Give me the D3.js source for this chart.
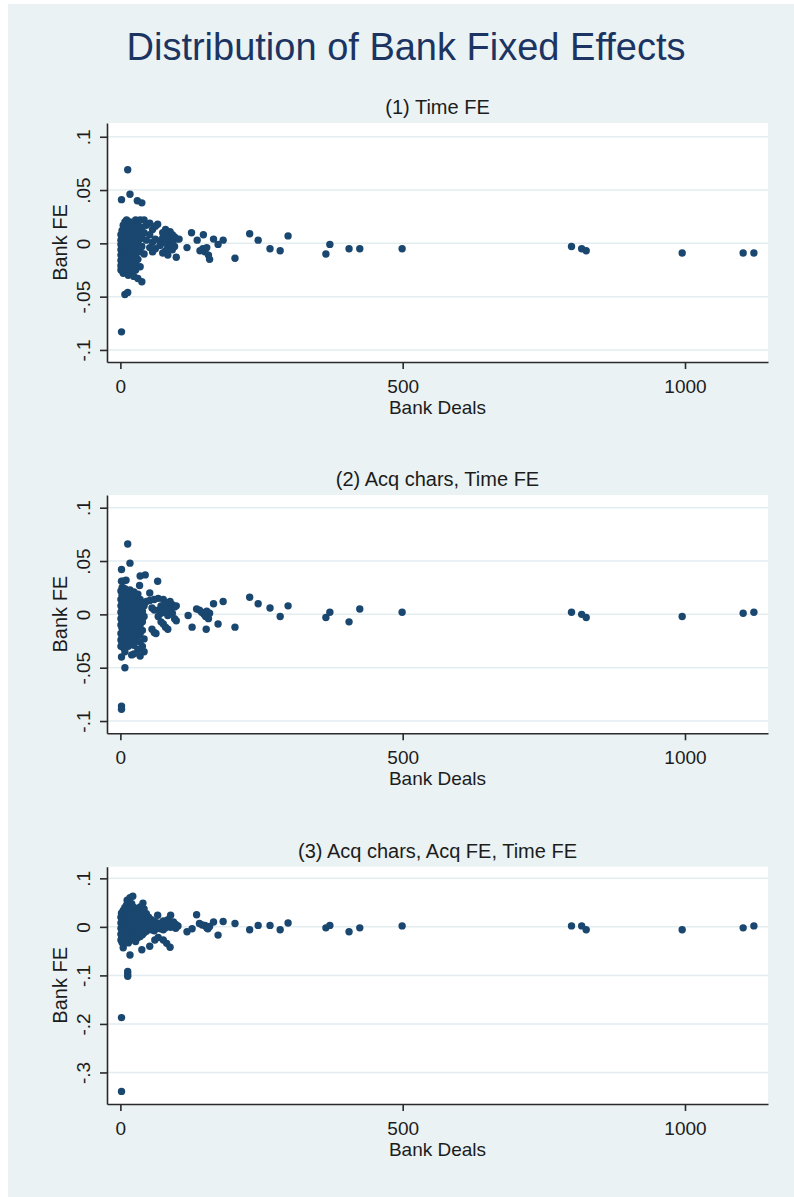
<!DOCTYPE html>
<html>
<head>
<meta charset="utf-8">
<script src="https://cdn.jsdelivr.net/npm/d3@7"></script>
<style>
  body { margin: 0; background: #ffffff; }
  text { font-family: "Liberation Sans", Arial, sans-serif; }
</style>
</head>
<body>
<div id="chart"></div>
<script>
// bank fixed effects, three specs, x = number of bank deals, y = bank FE
// each pair is [deals, fe]

// (1) time FE
var timeFE = [
  [13,.069],[2,.041],[17,.046],[30,.040],[38,.038],[2,-.083],[8,-.048],[13,-.046],
  [1,.008],[1,.003],[1,-.001],[1,-.006],[1,-.011],[1,-.016],[1,-.021],[1,-.025],
  [3,.012],[3,.005],[3,.001],[3,-.004],[3,-.009],[3,-.014],[3,-.019],
  [5,.017],[5,.010],[5,.002],[5,-.003],[5,-.008],[5,-.013],[5,-.018],[5,-.024],[5,-.028],
  [8,.020],[8,.014],[8,.007],[8,.000],[8,-.006],[8,-.012],[8,-.017],[8,-.022],
  [11,.022],[11,.016],[11,.009],[11,.003],[11,-.003],[11,-.010],[11,-.015],[11,-.021],[11,-.027],
  [14,.018],[14,.011],[14,.005],[14,-.001],[14,-.007],[14,-.013],[14,-.019],[14,-.024],[14,-.030],
  [17,.020],[17,.013],[17,.006],[17,.000],[17,-.005],[17,-.012],[17,-.017],
  [20,.015],[20,.008],[20,.002],[20,-.004],[20,-.009],[20,-.016],[20,-.022],[20,-.028],
  [24,.019],[24,.011],[24,.004],[24,-.002],[24,-.008],[24,-.014],[24,-.020],[24,-.031],
  [27,.022],[27,.014],[27,.007],[27,-.003],[27,-.012],[27,-.018],[27,-.025],
  [31,.017],[31,.009],[31,.002],[31,-.006],[31,-.015],[31,-.033],
  [35,.022],[35,.013],[35,.004],[35,-.008],[35,-.022],
  [38,.015],[38,.006],[38,-.003],[38,-.036],
  [42,.022],[42,.010],[42,-.010],[46,.017],[46,.003],
  [52,.019],[52,.008],[52,-.004],[57,.013],[57,.001],[57,-.008],
  [62,.016],[62,.004],[62,-.005],[66,.018],[70,.002],[70,-.002],
  [75,.010],[75,.005],[75,-.009],[80,.013],[80,.007],[80,.000],[80,-.007],
  [84,.010],[84,.003],[84,-.005],[84,-.011],[88,.011],[88,.006],[88,-.001],
  [92,.008],[92,.002],[92,-.006],[96,.006],[96,-.003],[100,.004],[99,-.013],[104,.004],
  [118,-.004],[126,.010],[136,.003],[141,-.007],[146,-.005],[147,.008],[150,-.008],
  [153,-.004],[156,-.011],[158,-.015],[165,.004],[173,-.001],[182,.003],[203,-.014],
  [229,.009],[244,.003],[265,-.005],[283,-.007],[297,.007],[364,-.010],[371,-.001],
  [405,-.005],[424,-.005],[499,-.005],[799,-.003],[817,-.005],[825,-.007],
  [995,-.009],[1103,-.009],[1122,-.009]
];

// (2) acq chars, time FE
var acqChars = [
  [13,.066],[17,.048],[2,.042],[5,.031],[2,.031],[10,.032],[35,.036],[44,.037],[34,.027],[66,.031],
  [2,-.040],[8,-.050],[2,-.086],[2,-.089],
  [1,.022],[1,.014],[1,.008],[1,.002],[1,-.004],[1,-.010],[1,-.018],[1,-.024],[1,-.030],
  [3,.025],[3,.018],[3,.011],[3,.005],[3,-.001],[3,-.007],[3,-.013],[3,-.020],[3,-.027],
  [5,.020],[5,.013],[5,.006],[5,.000],[5,-.006],[5,-.012],[5,-.017],[5,-.023],[5,-.031],
  [8,.024],[8,.016],[8,.009],[8,.003],[8,-.003],[8,-.009],[8,-.015],[8,-.021],[8,-.028],[8,-.035],
  [11,.021],[11,.013],[11,.006],[11,-.001],[11,-.007],[11,-.014],[11,-.020],[11,-.026],
  [14,.018],[14,.010],[14,.004],[14,-.004],[14,-.010],[14,-.017],[14,-.024],[14,-.030],
  [17,.023],[17,.015],[17,.008],[17,.001],[17,-.006],[17,-.012],[17,-.019],[17,-.027],
  [20,.019],[20,.011],[20,.004],[20,-.003],[20,-.009],[20,-.016],[20,-.022],[20,-.038],
  [24,.021],[24,.013],[24,.006],[24,-.001],[24,-.008],[24,-.014],[24,-.021],[24,-.029],[24,-.037],
  [27,.016],[27,.009],[27,.002],[27,-.005],[27,-.011],[27,-.018],[27,-.025],
  [31,.019],[31,.011],[31,.003],[31,-.004],[31,-.012],[31,-.020],[31,-.033],
  [35,.014],[35,.006],[35,-.002],[35,-.010],[35,-.018],[35,-.026],[35,-.039],
  [39,.011],[39,.003],[39,-.007],[39,-.015],[39,-.030],
  [42,.008],[42,-.002],[42,-.023],[42,-.035],[46,.012],
  [52,.020],[52,.013],[56,.006],[56,-.014],[60,.014],[60,.004],[60,-.017],[63,-.018],
  [67,.015],[67,.004],[67,-.002],[72,.008],[72,.001],[72,-.007],
  [76,.014],[76,.006],[76,-.009],[80,.010],[80,.002],[80,-.012],
  [84,.008],[84,-.001],[84,-.014],[88,.012],[88,.004],[92,.009],[92,.001],
  [96,.007],[96,-.004],[99,.008],[99,-.006],
  [120,-.001],[127,-.012],[135,.005],[140,.004],[144,.002],[148,.000],[151,-.002],
  [153,.003],[156,-.004],[158,.001],[152,-.014],[165,.010],[173,-.009],[182,.012],
  [203,-.012],[229,.016],[244,.010],[265,.006],[283,-.002],[297,.008],[364,-.003],
  [371,.002],[405,-.007],[424,.005],[499,.002],[799,.002],[817,.000],[825,-.003],
  [995,-.002],[1103,.001],[1122,.002]
];

// (3) acq chars, acq FE, time FE
var acqCharsFE = [
  [17,.060],[22,.063],[12,.055],[40,.049],[2,.028],[5,-.043],[17,-.058],[38,-.047],
  [52,-.040],[61,-.027],[67,-.022],[76,-.027],[82,-.034],[88,-.042],
  [13,-.092],[13,-.097],[13,-.102],[2,-.187],[2,-.339],
  [1,.020],[1,.008],[1,-.003],[1,-.015],[1,-.027],
  [3,.028],[3,.015],[3,.004],[3,-.007],[3,-.020],[3,-.032],
  [5,.034],[5,.022],[5,.010],[5,-.001],[5,-.012],[5,-.024],
  [8,.040],[8,.027],[8,.016],[8,.005],[8,-.006],[8,-.018],[8,-.030],
  [11,.045],[11,.032],[11,.020],[11,.009],[11,-.002],[11,-.014],[11,-.026],
  [14,.050],[14,.037],[14,.025],[14,.013],[14,.002],[14,-.009],[14,-.021],[14,-.033],
  [17,.043],[17,.030],[17,.018],[17,.006],[17,-.005],[17,-.017],[17,-.028],
  [20,.048],[20,.035],[20,.022],[20,.010],[20,-.001],[20,-.012],[20,-.024],
  [24,.040],[24,.028],[24,.015],[24,.004],[24,-.008],[24,-.019],
  [27,.033],[27,.020],[27,.008],[27,-.003],[27,-.015],[27,-.030],
  [31,.036],[31,.024],[31,.012],[31,.000],[31,-.011],[31,-.022],
  [35,.041],[35,.028],[35,.016],[35,.004],[35,-.007],[35,-.020],
  [39,.032],[39,.019],[39,.007],[39,-.005],[39,-.016],
  [42,.037],[42,.024],[42,.011],[42,-.001],[42,-.012],
  [46,.027],[46,.014],[46,.002],[46,-.009],[50,.020],[50,.008],[50,-.004],
  [55,.015],[55,.003],[55,-.006],[60,.011],[60,.000],[60,-.008],
  [66,.024],[66,.008],[66,-.003],[71,.005],[71,-.004],[76,.012],[76,.002],[76,-.006],
  [80,.008],[80,-.002],[84,.015],[84,.004],[89,.024],[89,.009],[89,-.001],
  [94,.010],[94,.002],[98,.005],[98,-.003],[102,.002],
  [118,-.010],[127,-.004],[135,.025],[140,.007],[145,.004],[150,.003],[153,-.002],
  [155,-.004],[158,.001],[165,.010],[173,-.017],[182,.011],[203,.007],[229,-.006],
  [244,.003],[265,.003],[283,-.006],[297,.008],[364,-.002],[371,.003],[405,-.010],
  [424,-.002],[499,.002],[799,.002],[817,.002],[825,-.006],[995,-.006],
  [1103,-.002],[1122,.002]
];

var panelTitles = ["(1) Time FE", "(2) Acq chars, Time FE", "(3) Acq chars, Acq FE, Time FE"];
var xTicks = [0, 500, 1000];
var yTicksSmall = [-.1, -.05, 0, .05, .1];
var yLabelsSmall = ["-.1", "-.05", "0", ".05", ".1"];
var yTicksBig = [-.3, -.2, -.1, 0, .1];
var yLabelsBig = ["-.3", "-.2", "-.1", "0", ".1"];

//svg area
var svgWidth = 794;
var svgHeight = 1197;

var bgColor = "#eaf2f3";
var markerColor = "#1a476f";
var inkColor = "#1c1c1c";

var svg = d3.select("#chart")
  .append("svg")
  .attr("width", svgWidth)
  .attr("height", svgHeight);

//graph region (stata light bluish gray)
svg.append("rect")
  .attr("x", 8)
  .attr("y", 4)
  .attr("width", svgWidth - 8)
  .attr("height", svgHeight - 4)
  .attr("fill", bgColor);

svg.append("text")
  .attr("x", 406)
  .attr("y", 60)
  .attr("text-anchor", "middle")
  .style("font-size", "38px")
  .attr("fill", "#1c3462")
  .text("Distribution of Bank Fixed Effects");

//plot area edges, same x for all panels
var plotLeft = 107;
var plotRight = 768;

var xScale = d3.scaleLinear()
  .domain([-23.7, 1147])
  .range([plotLeft, plotRight]);

var panels = [
  { data: timeFE, top: 123, bottom: 362, domain: [-.1113, .1129], ticks: yTicksSmall, labels: yLabelsSmall },
  { data: acqChars, top: 495, bottom: 733.3, domain: [-.1115, .1119], ticks: yTicksSmall, labels: yLabelsSmall },
  { data: acqCharsFE, top: 866.7, bottom: 1104, domain: [-.365, .124], ticks: yTicksBig, labels: yLabelsBig }
];

function drawPanel(p, i) {
  var yScale = d3.scaleLinear()
    .domain(p.domain)
    .range([p.bottom, p.top]);

  var g = svg.append("g");

  //white plot region
  g.append("rect")
    .attr("x", plotLeft)
    .attr("y", p.top)
    .attr("width", plotRight - plotLeft)
    .attr("height", p.bottom - p.top)
    .attr("fill", "#ffffff");

  //gridlines
  g.selectAll(".grid")
    .data(p.ticks)
    .enter()
    .append("line")
    .attr("class", "grid")
    .attr("x1", plotLeft)
    .attr("x2", plotRight)
    .attr("y1", d => yScale(d))
    .attr("y2", d => yScale(d))
    .attr("stroke", "#e3edf0")
    .attr("stroke-width", 1.5);

  //subtitle
  g.append("text")
    .attr("x", (plotLeft + plotRight) / 2)
    .attr("y", p.top - 9)
    .attr("text-anchor", "middle")
    .style("font-size", "20px")
    .attr("fill", inkColor)
    .text(panelTitles[i]);

  //markers
  g.selectAll(".dot")
    .data(p.data)
    .enter()
    .append("circle")
    .attr("class", "dot")
    .attr("cx", d => xScale(d[0]))
    .attr("cy", d => yScale(d[1]))
    .attr("r", 3.7)
    .attr("fill", markerColor);

  //y axis, labels turned sideways like stata does
  var leftAxis = d3.axisLeft(yScale)
    .tickValues(p.ticks)
    .tickFormat((d, k) => p.labels[k])
    .tickSize(7)
    .tickSizeOuter(0);

  var yAxis = g.append("g")
    .attr("transform", `translate(${plotLeft}, 0)`)
    .call(leftAxis);

  yAxis.selectAll("text")
    .attr("transform", "rotate(-90)")
    .attr("x", 0)
    .attr("y", -17)
    .attr("dy", 0)
    .style("text-anchor", "middle");

  //x axis, plain integers (no thousands comma)
  var bottomAxis = d3.axisBottom(xScale)
    .tickValues(xTicks)
    .tickFormat(d3.format("d"))
    .tickSize(7)
    .tickSizeOuter(0);

  var xAxis = g.append("g")
    .attr("transform", `translate(0, ${p.bottom})`)
    .call(bottomAxis);

  xAxis.selectAll("text")
    .attr("y", 31)
    .attr("dy", 0);

  [yAxis, xAxis].forEach(function(ax) {
    ax.selectAll("path, line")
      .attr("stroke", "#2a2a2a")
      .attr("stroke-width", 1.6);
    ax.selectAll("text")
      .style("font-size", "19px")
      .style("font-family", "'Liberation Sans', Arial, sans-serif")
      .attr("fill", inkColor);
  });

  //axis titles
  g.append("text")
    .attr("x", (plotLeft + plotRight) / 2)
    .attr("y", p.bottom + 52)
    .attr("text-anchor", "middle")
    .style("font-size", "19px")
    .attr("fill", inkColor)
    .text("Bank Deals");

  g.append("text")
    .attr("transform", `translate(67, ${(p.top + p.bottom) / 2}) rotate(-90)`)
    .attr("text-anchor", "middle")
    .style("font-size", "20px")
    .attr("fill", inkColor)
    .text("Bank FE");
}

panels.forEach(drawPanel);
</script>
</body>
</html>
